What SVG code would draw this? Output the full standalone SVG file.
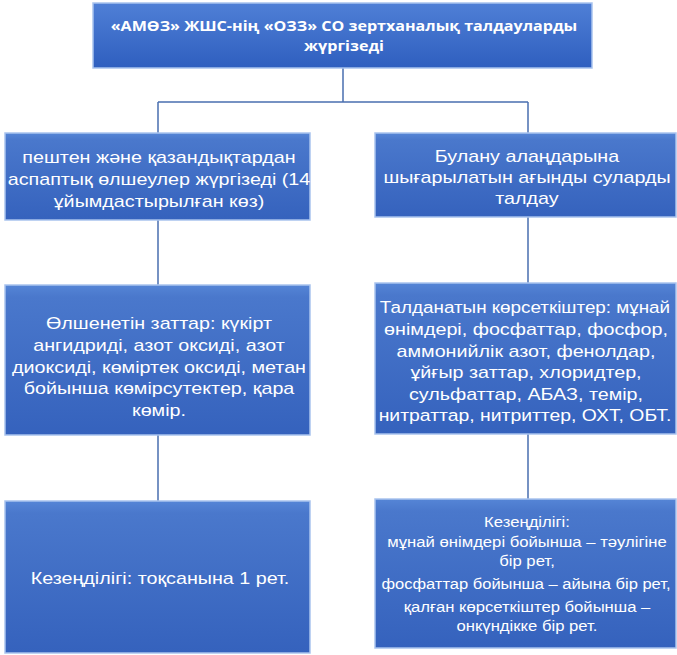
<svg xmlns="http://www.w3.org/2000/svg" width="677" height="655" viewBox="0 0 677 655">
<defs>
<linearGradient id="g" x1="0" y1="0" x2="0" y2="1">
<stop offset="0" stop-color="#5585d6"/>
<stop offset="0.08" stop-color="#4a78cc"/>
<stop offset="1" stop-color="#3562bd"/>
</linearGradient>
<linearGradient id="gt" x1="0" y1="0" x2="0" y2="1">
<stop offset="0" stop-color="#4f7fd6"/>
<stop offset="1" stop-color="#2f5fbf"/>
</linearGradient>
</defs>
<style>
.box{fill:url(#g);stroke:#a9c3ee;stroke-width:1.5}
.top{fill:url(#gt);stroke:#a9c3ee;stroke-width:1.5}
.t{font-family:"Liberation Sans",Arial,sans-serif;font-size:17px;fill:#ffffff;text-anchor:middle}
.s{font-family:"Liberation Sans",Arial,sans-serif;font-size:14.5px;fill:#ffffff;text-anchor:middle}
.h{font-family:"Open Sans","Liberation Sans",sans-serif;font-size:14.5px;font-weight:bold;fill:#ffffff;text-anchor:middle}
.c{fill:none;stroke:#4a6fb0;stroke-width:1.5}
</style>
<g id="connectors">
<path class="c" d="M343,68 V102 M158,102 H528 M158,102 V133 M528,102 V133 M158,220 V285 M528,217 V283 M158,435 V501 M528,434 V499"/>
</g>
<g id="n0">
<rect class="top" x="93" y="3" width="499" height="65"/>
<text class="h" transform="translate(344,31) scale(1.11,1)">«АМӨЗ» ЖШС-нің «ОЗЗ» СО зертханалық талдауларды</text>
<text class="h" transform="translate(344,51) scale(1.11,1)">жүргізеді</text>
</g>
<g id="n1">
<rect class="box" x="5" y="133" width="305" height="87"/>
<text class="t" transform="translate(159,163) scale(1.16,1)">пештен және қазандықтардан</text>
<text class="t" transform="translate(159,185) scale(1.16,1)">аспаптық өлшеулер жүргізеді (14</text>
<text class="t" transform="translate(159,207) scale(1.16,1)">ұйымдастырылған көз)</text>
</g>
<g id="n2">
<rect class="box" x="375" y="133" width="301" height="84"/>
<text class="t" transform="translate(527,162) scale(1.16,1)">Булану алаңдарына</text>
<text class="t" transform="translate(527,183) scale(1.16,1)">шығарылатын ағынды суларды</text>
<text class="t" transform="translate(527,204) scale(1.16,1)">талдау</text>
</g>
<g id="n3">
<rect class="box" x="5" y="285" width="305" height="150"/>
<text class="t" transform="translate(159,329) scale(1.16,1)">Өлшенетін заттар: күкірт</text>
<text class="t" transform="translate(159,351) scale(1.16,1)">ангидриді, азот оксиді, азот</text>
<text class="t" transform="translate(159,373) scale(1.16,1)">диоксиді, көміртек оксиді, метан</text>
<text class="t" transform="translate(159,394) scale(1.16,1)">бойынша көмірсутектер, қара</text>
<text class="t" transform="translate(159,416) scale(1.16,1)">көмір.</text>
</g>
<g id="n4">
<rect class="box" x="375" y="283" width="301" height="151"/>
<text class="t" transform="translate(525,313) scale(1.11,1)">Талданатын көрсеткіштер: мұнай</text>
<text class="t" transform="translate(526,335) scale(1.16,1)">өнімдері, фосфаттар, фосфор,</text>
<text class="t" transform="translate(526,357) scale(1.16,1)">аммонийлік азот, фенолдар,</text>
<text class="t" transform="translate(526,378) scale(1.16,1)">ұйғыр заттар, хлоридтер,</text>
<text class="t" transform="translate(526,400) scale(1.16,1)">сульфаттар, АБАЗ, темір,</text>
<text class="t" transform="translate(525,421) scale(1.14,1)">нитраттар, нитриттер, ОХТ, ОБТ.</text>
</g>
<g id="n5">
<rect class="box" x="5" y="501" width="305" height="152"/>
<text class="t" transform="translate(160,584) scale(1.16,1)">Кезеңділігі: тоқсанына 1 рет.</text>
</g>
<g id="n6">
<rect class="box" x="375" y="499" width="301" height="149"/>
<text class="s" transform="translate(527,527) scale(1.15,1)">Кезеңділігі:</text>
<text class="s" transform="translate(527,547) scale(1.15,1)">мұнай өнімдері бойынша – тәулігіне</text>
<text class="s" transform="translate(527,566) scale(1.15,1)">бір рет,</text>
<text class="s" transform="translate(526,589) scale(1.14,1)">фосфаттар бойынша – айына бір рет,</text>
<text class="s" transform="translate(527,612) scale(1.15,1)">қалған көрсеткіштер бойынша –</text>
<text class="s" transform="translate(527,631) scale(1.15,1)">онкүндікке бір рет.</text>
</g>
</svg>
